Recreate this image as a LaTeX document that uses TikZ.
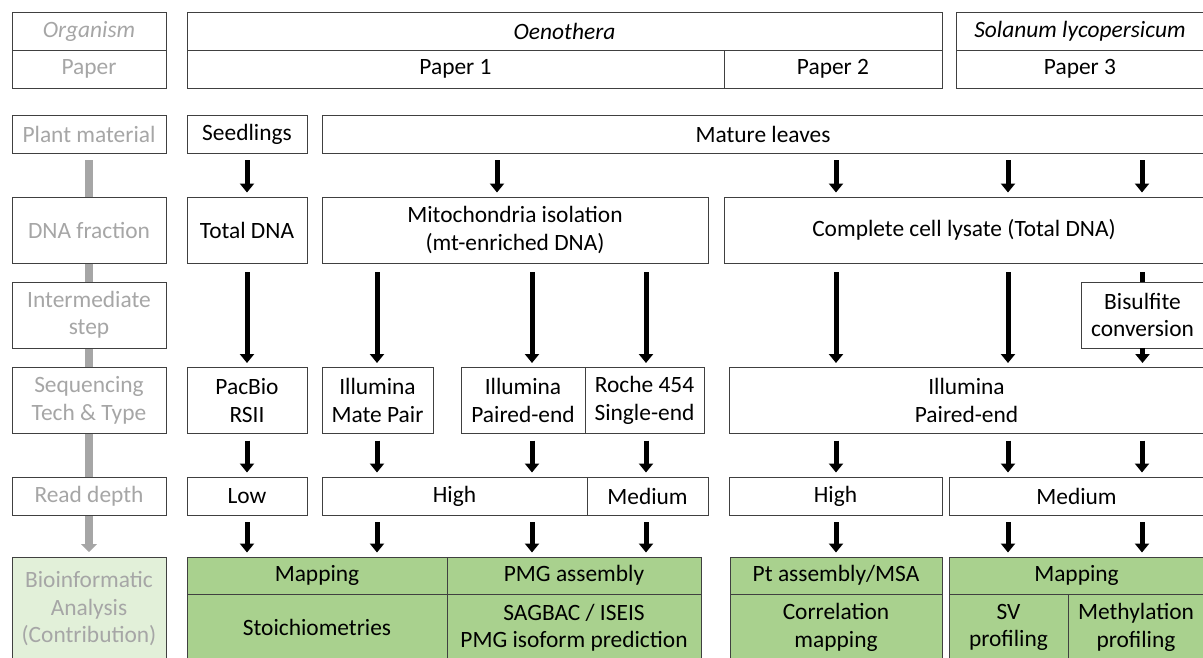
\documentclass[tikz,border=0pt]{standalone}
\usepackage{fontspec}
\setmainfont{Carlito}
\usepackage{tikz}
\usetikzlibrary{arrows.meta, positioning, calc, backgrounds}
\usepackage{xcolor}
\definecolor{resgreen}{HTML}{A9D18E}
\definecolor{palegreen}{HTML}{E2F0D9}
\definecolor{headgray}{HTML}{A6A6A6}
\definecolor{edgegray}{HTML}{404040}
\newcommand{\boxfont}{\fontsize{23.4}{27.5}\selectfont}

\begin{document}
\begin{tikzpicture}[
    x=1pt, y=-1pt,
    box/.style={draw=edgegray, line width=1pt, fill=white, inner sep=0pt, outer sep=0pt, align=center, minimum height=38pt, font=\boxfont},
    tall/.style={box, minimum height=66pt},
    rowhead/.style={box, text=headgray, minimum width=154pt},
    result/.style={box, fill=resgreen},
    arrow/.style={-{Triangle[width=14pt,length=9pt]}, line width=5pt, shorten <=7pt, shorten >=4.5pt},
    grayarrow/.style={-{Triangle[width=16pt,length=8pt]}, line width=8pt, draw=headgray, shorten <=7pt, shorten >=5pt},
]
    \useasboundingbox (0,0) rectangle (1203,657);

    % row heads
    \node[rowhead, font=\boxfont\itshape] (org) at (89,31) {Organism};
    \node[rowhead, below=0pt of org] (paper) {Paper};
    \node[rowhead] (plant) at (89,134) {Plant material};
    \node[rowhead, tall] (dna) at (89,230) {DNA fraction};
    \node[rowhead, tall] (inter) at (89,315) {Intermediate\\step};
    \node[rowhead, tall] (seq) at (89,400.5) {Sequencing\\Tech \& Type};
    \node[rowhead] (depth) at (89,496) {Read depth};
    \node[rowhead, fill=palegreen, minimum height=104pt] (bio) at (89,609) {Bioinformatic\\Analysis\\(Contribution)};

    % organism / paper
    \node[box, minimum width=755pt, right=21pt of org, font=\boxfont\itshape] (oeno) {Oenothera};
    \node[box, minimum width=248pt, right=14pt of oeno, font=\boxfont\itshape] (sol) {Solanum lycopersicum};
    \node[box, minimum width=537pt, right=21pt of paper] (p1) {Paper 1};
    \node[box, minimum width=218pt, right=0pt of p1] (p2) {Paper 2};
    \node[box, minimum width=248pt, right=14pt of p2] (p3) {Paper 3};

    % plant material
    \node[box, minimum width=120pt, right=21pt of plant] (seed) {Seedlings};
    \node[box, minimum width=882pt, right=15pt of seed] (mature) {Mature leaves};

    % DNA fraction
    \node[tall, minimum width=120pt, right=21pt of dna] (totdna) {Total DNA};
    \node[tall, minimum width=386pt, right=15pt of totdna] (mito) {Mitochondria isolation\\(mt-enriched DNA)};
    \node[tall, minimum width=480pt, right=16pt of mito] (lysate) {Complete cell lysate (Total DNA)};

    % intermediate step
    \node[tall, minimum width=123pt, below=19pt of lysate.south east, anchor=north east] (bis) {Bisulfite\\conversion};

    % sequencing
    \node[tall, minimum width=120pt, right=21pt of seq] (pacbio) {PacBio\\RSII};
    \node[tall, minimum width=111pt, right=15pt of pacbio] (mate) {Illumina\\Mate Pair};
    \node[tall, minimum width=124pt, right=28pt of mate] (pe) {Illumina\\Paired-end};
    \node[tall, minimum width=119pt, right=0pt of pe] (roche) {Roche 454\\Single-end};
    \node[tall, minimum width=475pt, right=25pt of roche] (pebig) {Illumina\\Paired-end};

    % read depth
    \node[box, minimum width=120pt, right=21pt of depth] (low) {Low};
    \node[box, minimum width=265pt, right=15pt of low] (highA) {High};
    \node[box, minimum width=121pt, right=0pt of highA] (medA) {Medium};
    \node[box, minimum width=213pt, right=21pt of medA] (highB) {High};
    \node[box, minimum width=255pt, right=7pt of highB] (medB) {Medium};

    % bioinformatic analysis
    \node[result, minimum width=260pt, minimum height=37pt, right=21pt of bio.north east, anchor=north west] (mapA) {Mapping};
    \node[result, minimum width=260pt, minimum height=67pt, below=0pt of mapA] (stoich) {Stoichiometries};
    \node[result, minimum width=254pt, minimum height=37pt, right=0pt of mapA] (pmg) {PMG assembly};
    \node[result, minimum width=254pt, minimum height=67pt, below=0pt of pmg] (sagbac) {SAGBAC / ISEIS\\PMG isoform prediction};
    \node[result, minimum width=212pt, minimum height=37pt, right=29pt of pmg] (pt) {Pt assembly/MSA};
    \node[result, minimum width=212pt, minimum height=67pt, below=0pt of pt] (corr) {Correlation\\mapping};
    \node[result, minimum width=255pt, minimum height=37pt, right=7pt of pt] (mapB) {Mapping};
    \node[result, minimum width=119pt, minimum height=67pt, below=0pt of mapB.south west, anchor=north west] (sv) {SV\\profiling};
    \node[result, minimum width=136pt, minimum height=67pt, right=0pt of sv] (meth) {Methylation\\profiling};

    % lanes
    \coordinate (l1) at (247,0);
    \coordinate (l2) at (377,0);
    \coordinate (l3) at (532,0);
    \coordinate (l4) at (646,0);
    \coordinate (l5) at (836,0);
    \coordinate (l6) at (1008,0);
    \coordinate (l7) at (1142,0);
    \coordinate (lm) at (497,0);

    \begin{scope}[on background layer]
        \draw[grayarrow] (plant.south) -- (bio.north);
    \end{scope}

    \foreach \a/\b/\l in {seed/totdna/l1, mature/mito/lm, mature/lysate/l5, mature/lysate/l6, mature/lysate/l7,
        pacbio/low/l1, mate/highA/l2, pe/highA/l3, roche/medA/l4, pebig/highB/l5, pebig/medB/l6, pebig/medB/l7,
        low/mapA/l1, highA/mapA/l2, highA/pmg/l3, medA/pmg/l4, highB/pt/l5, medB/mapB/l6, medB/mapB/l7}
        \draw[arrow] (\a.south -| \l) -- (\b.north -| \l);

    \foreach \a/\b/\l in {totdna/pacbio/l1, mito/mate/l2, mito/pe/l3, mito/roche/l4, lysate/pebig/l5, lysate/pebig/l6}
        \draw[arrow, shorten <=9pt] (\a.south -| \l) -- (\b.north -| \l);

    \draw[line width=5pt, shorten <=9pt] (lysate.south -| bis) -- (bis.north);
    \draw[arrow, shorten <=0pt] (bis.south) -- (pebig.north -| bis);
\end{tikzpicture}
\end{document}
